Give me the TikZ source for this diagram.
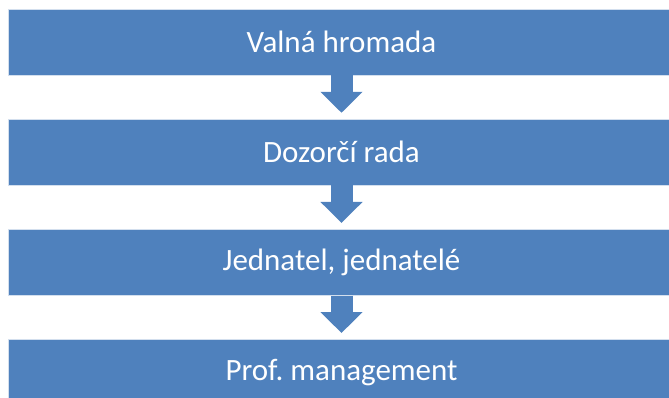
\documentclass[tikz,border=0pt]{standalone}
\usepackage{fontspec}
\setmainfont{Carlito}
\usepackage{xcolor}
\usepackage{tikz}
\usetikzlibrary{arrows.meta, positioning}
\definecolor{boxblue}{RGB}{79,129,189}
\tikzstyle{level} = [rectangle, minimum width=667pt, minimum height=66pt, text centered, fill=boxblue, draw=white!75!boxblue, line width=0.6pt, text=white, font=\fontsize{31}{36}\selectfont]
\tikzstyle{blockarrow} = [draw=boxblue, line width=22pt, -{Triangle[width=41pt,length=21pt]}]

\begin{document}
\begin{tikzpicture}[node distance=43.5pt]
\useasboundingbox (0,0) rectangle (669pt,-398pt);
%----------------------------------------------------------------------------
% Placement of the levels
\node (valna) [level] at (341.5pt,-42pt) {Valná hromada};
\node (dozorci) [level, below = of valna] {Dozorčí rada};
\node (jednatel) [level, below = of dozorci] {Jednatel, jednatelé};
\node (management) [level, below = of jednatel] {Prof.\ management};

%----------------------------------------------------------------------------
% Drawing of arrows between levels
\draw [blockarrow] (valna.south) -- ([yshift=6pt]dozorci.north);
\draw [blockarrow] (dozorci.south) -- ([yshift=6pt]jednatel.north);
\draw [blockarrow] (jednatel.south) -- ([yshift=6pt]management.north);

\end{tikzpicture}
\end{document}
